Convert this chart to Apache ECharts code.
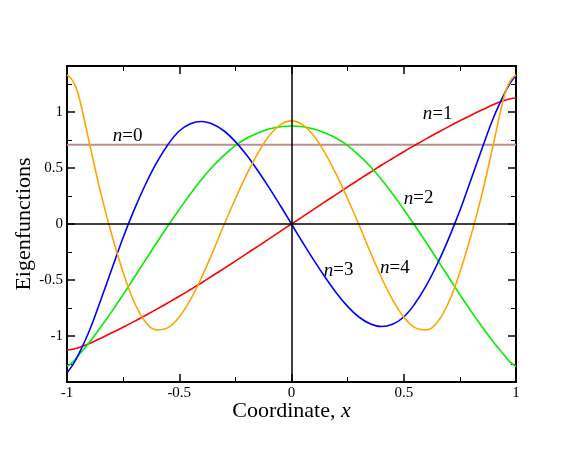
<!DOCTYPE html>
<html>
<head>
<meta charset="utf-8">
<script src="https://cdn.jsdelivr.net/npm/echarts@6/dist/echarts.min.js"></script>
<style>
  html, body { margin: 0; padding: 0; background: #fff; }
  #chart { width: 581px; height: 449px; }
</style>
</head>
<body>
<div id="chart"></div>
<script>
// sample positions along the coordinate axis
const xs = [-1, -0.975, -0.95, -0.9, -0.85, -0.8, -0.75, -0.7, -0.65, -0.6, -0.55, -0.5,
  -0.45, -0.4, -0.35, -0.3, -0.25, -0.2, -0.15, -0.1, -0.05, 0,
  0.05, 0.1, 0.15, 0.2, 0.25, 0.3, 0.35, 0.4, 0.45, 0.5, 0.55, 0.6, 0.65, 0.7,
  0.75, 0.8, 0.85, 0.9, 0.95, 0.975, 1]

// eigenfunction values
const n0x = [-1, 1]
const n0 = [0.707, 0.707]
const n1 = [-1.124, -1.117, -1.104, -1.066, -1.019, -0.971, -0.921, -0.869, -0.815, -0.760, -0.703, -0.645,
  -0.585, -0.524, -0.460, -0.396, -0.331, -0.265, -0.199, -0.133, -0.066, 0,
  0.066, 0.133, 0.199, 0.265, 0.331, 0.396, 0.460, 0.524, 0.585, 0.645, 0.703, 0.760, 0.815, 0.869,
  0.921, 0.971, 1.019, 1.066, 1.104, 1.117, 1.124]
const n2 = [-1.27, -1.235, -1.175, -1.055, -0.92, -0.78, -0.63, -0.475, -0.32, -0.165, -0.015, 0.13,
  0.27, 0.40, 0.515, 0.615, 0.70, 0.765, 0.813, 0.848, 0.868, 0.875,
  0.868, 0.848, 0.813, 0.765, 0.70, 0.615, 0.515, 0.40, 0.27, 0.13, -0.015, -0.165, -0.32, -0.475,
  -0.63, -0.78, -0.92, -1.055, -1.175, -1.235, -1.27]
const n3 = [-1.327, -1.26, -1.17, -0.95, -0.68, -0.40, -0.12, 0.13, 0.355, 0.55, 0.71, 0.83,
  0.895, 0.915, 0.89, 0.83, 0.735, 0.615, 0.475, 0.325, 0.165, 0,
  -0.165, -0.325, -0.475, -0.615, -0.735, -0.83, -0.89, -0.915, -0.895, -0.83, -0.71, -0.55, -0.355, -0.13,
  0.12, 0.40, 0.68, 0.95, 1.17, 1.26, 1.327]
const n4 = [1.33, 1.28, 1.16, 0.72, 0.28, -0.10, -0.43, -0.70, -0.875, -0.945, -0.925, -0.83,
  -0.675, -0.475, -0.245, -0.005, 0.225, 0.44, 0.63, 0.785, 0.885, 0.92,
  0.885, 0.785, 0.63, 0.44, 0.225, -0.005, -0.245, -0.475, -0.675, -0.83, -0.925, -0.945, -0.875, -0.70,
  -0.43, -0.10, 0.28, 0.72, 1.16, 1.28, 1.33]

const yTicks = [-1, -0.5, 0, 0.5, 1]
const yMinorTicks = [-1.25, -0.75, -0.25, 0.25, 0.75, 1.25]

const serif = 'Liberation Serif'
const pair = (x, y) => x.map((v, i) => [v, y[i]])

const chart = echarts.init(document.getElementById('chart'))

const xBase = {
  type: 'value',
  min: -1,
  max: 1,
  interval: 0.5,
  splitLine: { show: false },
  axisLine: { show: true, onZero: false, lineStyle: { color: '#000', width: 2 } },
  axisTick: { show: true, inside: true, length: 8, lineStyle: { color: '#000', width: 1.5 } },
  minorTick: { show: true, splitNumber: 2, length: 5, lineStyle: { color: '#000', width: 1 } }
}

const yBase = {
  type: 'value',
  min: -1.41,
  max: 1.41,
  splitLine: { show: false },
  axisLabel: { show: false },
  axisLine: { show: false, onZero: false }
}

const curve = (name, data, color) => ({
  name,
  type: 'line',
  data,
  smooth: 0.4,
  symbol: 'none',
  lineStyle: { color, width: 1.6 },
  itemStyle: { color },
  silent: true
})

const label = (x, y, num) => ({
  type: 'text',
  x,
  y,
  style: {
    text: '{i|n}=' + num,
    fontFamily: serif,
    fontSize: 19,
    fill: '#000',
    verticalAlign: 'middle',
    rich: { i: { fontStyle: 'italic', fontFamily: serif, fontSize: 19 } }
  }
})

const option = {
  animation: false,
  grid: { left: 67, top: 66, width: 449, height: 316 },
  xAxis: [
    Object.assign({}, xBase, {
      position: 'bottom',
      name: 'Coordinate, {i|x}',
      nameLocation: 'middle',
      nameGap: 18,
      nameMoveOverlap: false,
      nameTextStyle: {
        fontFamily: serif, fontSize: 22, color: '#000',
        rich: { i: { fontStyle: 'italic', fontFamily: serif, fontSize: 22 } }
      },
      axisLabel: { fontFamily: serif, fontSize: 15, color: '#000', margin: 4 }
    }),
    Object.assign({}, xBase, { position: 'top', axisLabel: { show: false } })
  ],
  yAxis: [
    Object.assign({}, yBase, {
      position: 'left',
      axisLine: { show: true, onZero: false, lineStyle: { color: '#000', width: 2 } },
      axisTick: { show: true, inside: true, length: 8, customValues: yTicks, lineStyle: { color: '#000', width: 1.5 } },
      axisLabel: { show: true, customValues: yTicks, fontFamily: serif, fontSize: 15, color: '#000', margin: 4 },
      name: 'Eigenfunctions',
      nameLocation: 'middle',
      nameGap: 32,
      nameMoveOverlap: false,
      nameTextStyle: { fontFamily: serif, fontSize: 22, color: '#000' }
    }),
    Object.assign({}, yBase, {
      position: 'right',
      axisLine: { show: true, onZero: false, lineStyle: { color: '#000', width: 2 } },
      axisTick: { show: true, inside: true, length: 8, customValues: yTicks, lineStyle: { color: '#000', width: 1.5 } }
    }),
    Object.assign({}, yBase, {
      position: 'left',
      axisTick: { show: true, inside: true, length: 5, customValues: yMinorTicks, lineStyle: { color: '#000', width: 1 } }
    }),
    Object.assign({}, yBase, {
      position: 'right',
      axisTick: { show: true, inside: true, length: 5, customValues: yMinorTicks, lineStyle: { color: '#000', width: 1 } }
    })
  ],
  series: [
    Object.assign(curve('n=0', pair(n0x, n0), '#bc8f8f'), {
      smooth: false,
      lineStyle: { color: '#bc8f8f', width: 2 },
      markLine: {
        silent: true,
        symbol: 'none',
        label: { show: false },
        lineStyle: { color: '#000', width: 1.5, type: 'solid' },
        data: [{ yAxis: 0 }, { xAxis: 0 }]
      }
    }),
    curve('n=1', pair(xs, n1), '#ff0000'),
    curve('n=2', pair(xs, n2), '#00ee00'),
    curve('n=3', pair(xs, n3), '#0000ff'),
    curve('n=4', pair(xs, n4), '#ffa500')
  ],
  graphic: [
    label(112.7, 136, 0),
    label(422.7, 114, 1),
    label(403.7, 198.5, 2),
    label(323.7, 270.5, 3),
    label(380, 268, 4)
  ]
}

chart.setOption(option)
</script>
</body>
</html>
